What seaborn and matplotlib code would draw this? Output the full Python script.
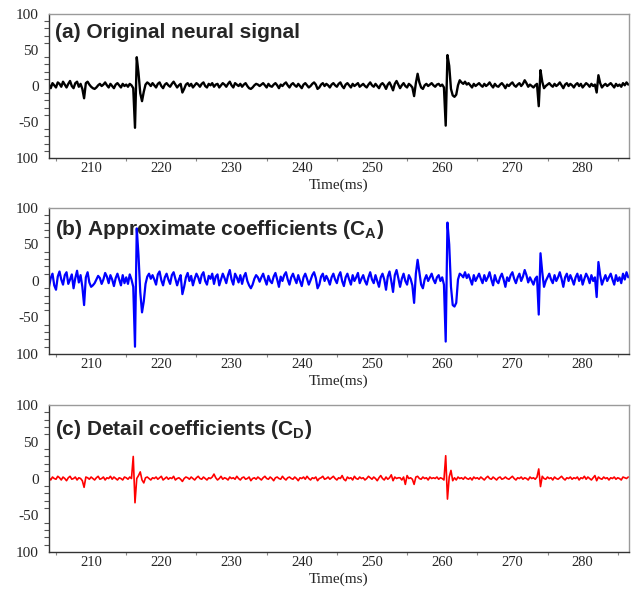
import numpy as np
import pandas as pd
import seaborn as sns
import matplotlib
matplotlib.use("Agg")
import matplotlib.pyplot as plt
from matplotlib.ticker import MultipleLocator

# sampling of the traces (ms)
t_start = 204.0
t_step = 0.25

# (a) original neural signal
orig = [2, -3, 4, 1, -2, 5, 3, -1, 6, 2, -2, 3, 7, 0, -3, 4, 6, -1, 3, -4,
        -17, 4, 6, 2, -1, -3, -4, -2, 1, 3, 0, 2, 5, 1, -2, 3, 0, -3, 2, 4,
        1, -2, 3, 0, 2, -1, 3, 1, -3, -58, 40, 18, -10, -21, -8, 2, 5, 3, 0, 4,
        1, -2, 3, 5, 0, -3, 2, 4, 1, -1, 3, 6, 2, -2, 1, 3, -9, -4, 2, 4,
        0, 3, -2, 1, 4, 2, -1, 3, 5, 0, -2, 3, 1, 4, -1, 2, 3, -2, 1, 4,
        2, -1, 3, 6, 1, -2, 4, 2, 0, 3, -1, 2, 4, 0, -3, -4, -2, 1, 3, 2,
        0, 2, 4, 1, -2, 3, 0, -1, 2, 4, 1, -3, 2, 0, 3, 5, 1, -2, 2, 4,
        1, -1, 3, 0, -3, 2, 4, 1, -2, 0, 3, 5, 2, -4, -2, 2, 4, 0, 3, 1,
        -2, 2, 4, 1, -1, 3, 5, 0, -3, 2, 4, 1, -2, 3, 0, 2, 4, -1, 1, 3,
        0, -2, 2, 5, 1, -1, 3, 0, -3, 2, 4, 1, -4, 2, 5, 0, -6, 3, 7, 2,
        -3, 1, 4, 0, -2, 3, 1, -2, -14, 4, 17, 5, -2, -4, 1, 3, 0, 2, 4, 1,
        -1, 2, 3, 0, 2, -2, -55, 43, 28, -4, -13, -15, -12, 1, 8, 5, 3, 6, 2, 4,
        1, -2, 3, 0, 2, 4, 1, -1, 3, 0, 2, 5, 1, -2, 3, 0, -1, 2, 4, 1,
        -3, 2, 0, 3, 5, 1, -1, 2, 4, 0, 3, 8, 4, -1, 2, 0, -2, 1, 3, -28,
        22, 6, -3, 0, 2, 4, 1, -1, 3, 0, 2, 5, 1, -3, 2, 4, 0, 3, 1, -2,
        2, 4, 0, 3, -2, 1, 4, 2, -1, 3, 0, 2, -9, 15, 4, -2, 1, 3, 0, 2,
        4, 1, -2, 3, 0, 2, -1, 4, 1, 5, 2]

# (b) approximate coefficients
approx = [-8, 4, 10, -6, -12, 6, 13, 2, -5, 8, 12, -4, 2, 9, -10, 4, 14, -2, 8, -8,
          -33, 5, 12, -2, -8, -6, -3, 2, 7, 4, -4, 2, 11, 6, -3, 8, 2, -7, 4, 10,
          2, -6, 8, -3, 5, -4, 9, 2, -8, -90, 72, 35, -15, -43, -28, -4, 6, 10, 3, 8,
          2, -5, 9, 13, 1, -6, 5, 10, 2, -4, 8, 12, 3, -6, 2, 8, -18, -8, 5, 11,
          0, 7, -6, 3, 10, 5, -3, 8, 12, 0, -5, 7, 3, 10, -4, 6, 9, -6, 2, 10,
          4, -3, 8, 15, 2, -5, 10, 5, -2, 8, -4, 6, 11, 0, -6, -10, -5, 3, 8, 5,
          -1, 5, 10, 2, -5, 7, 0, -3, 6, 11, 2, -8, 6, 0, 8, 12, 2, -5, 5, 10,
          3, -3, 8, 0, -7, 5, 10, 3, -5, 1, 8, 12, 4, -10, -5, 6, 10, 0, 7, 2,
          -5, 5, 10, 2, -3, 7, 12, 0, -7, 5, 10, 2, -5, 8, 0, 5, 11, -3, 3, 8,
          0, -5, 5, 12, 2, -3, 8, 0, -8, 5, 10, 2, -12, 6, 13, 0, -15, 8, 15, 4,
          -8, 3, 10, 0, -5, 8, 3, -6, -30, 10, 29, 12, -5, -10, 2, 8, 0, 5, 10, 2,
          -3, 5, 8, 0, 5, -5, -83, 80, 50, -8, -33, -35, -30, 2, 10, 8, 5, 12, 4, 9,
          2, -5, 8, 0, 5, 10, 3, -3, 8, 0, 5, 12, 2, -6, 8, 0, -3, 5, 10, 2,
          -8, 5, 0, 8, 12, 3, -3, 5, 10, 0, 6, 15, 8, -2, 5, 0, -5, 3, 6, -46,
          38, 12, -8, 0, 5, 10, 2, -3, 8, 0, 5, 12, 3, -8, 5, 10, 0, 8, 2, -5,
          5, 10, 0, 8, -5, 3, 10, 5, -3, 8, 0, 5, -22, 26, 8, -5, 2, 8, 0, 5,
          10, 2, -5, 8, 0, 5, -3, 10, 2, 12, 5]

# (c) detail coefficients
detail = [1, -2, 2, 0, -1, 3, 1, -2, 2, 0, -3, 1, 3, -1, 0, 2, -2, 1, 0, -3,
          -12, 2, 1, -1, 2, 0, -2, 1, 3, -1, 0, 2, -2, 1, 0, 3, -1, 2, 0, -2,
          1, 0, -2, 2, 1, -1, 2, 0, 30, -33, 0, 4, 9, -2, -6, 1, 2, 0, -2, 1,
          0, 2, -1, 1, 3, -2, 0, 2, -1, 1, 0, 3, -2, 0, 1, -1, -4, 0, 2, 1,
          -1, 2, 0, -2, 1, 3, 0, -1, 2, 0, -2, 1, 0, 2, 6, 1, -2, 0, 3, -1,
          1, 0, -2, 2, 0, 1, -1, 3, 0, -2, 1, 2, -1, 0, 2, -3, 0, 1, -1, 2,
          0, -2, 1, 3, 0, -1, 2, 0, -3, 1, 2, 0, -1, 3, 0, -2, 1, 2, 0, -1,
          2, 0, -3, 1, 0, 2, -1, 3, 0, -2, 1, 0, 2, -3, 0, 1, 3, -1, 0, 2,
          -1, 1, 3, 0, -2, 1, 0, 4, -1, -3, 2, 0, 1, -2, 3, 0, -1, 2, 0, 1,
          -2, 0, 3, 1, -1, 2, 0, -3, 1, 4, 0, -2, 2, -1, 1, 5, -3, 2, 0, 1,
          1, -2, 2, -8, 4, 0, 1, -1, -8, 2, 3, 0, -1, 2, 0, 1, -2, 2, 0, 1,
          0, 2, -1, 1, 0, -2, 31, -28, 2, 11, -3, 1, -2, 2, 0, 1, -1, 2, 0, -1,
          1, -2, 2, 0, 1, -1, 2, 0, -2, 1, 3, 0, -1, 2, 0, -2, 1, 2, -1, 0,
          2, 0, -1, 1, 3, 0, -2, 1, 0, 2, -1, 1, 0, -2, 2, 0, 1, -1, 2, 13,
          -11, 3, 0, -1, 2, 0, 1, -2, 2, 0, -1, 1, 3, 0, -2, 1, 0, 2, -1, 1,
          0, 2, -2, 1, 0, 3, -1, 2, 0, -2, 1, 4, -3, 2, 0, -1, 2, 0, 1, -2,
          1, 0, 2, -1, 1, 0, -2, 2, 1, 0, 2]

titles = ["(a) Original neural signal",
          r"(b) Approximate coefficients (C$_\mathbf{A}$)",
          r"(c) Detail coefficients (C$_\mathbf{D}$)"]
colors = ["black", "#0000ff", "#ff0000"]
widths = [1.7, 1.6, 1.2]
ytick_vals = [100, 50, 0, -50, -100]
ytick_labels = ["100", "50", "0", "-50", "100"]
xtick_vals = [210, 220, 230, 240, 250, 260, 270, 280]

sns.set_style("white")
plt.rcParams["mathtext.fontset"] = "custom"
plt.rcParams["mathtext.bf"] = "Liberation Sans:bold"
plt.rcParams["mathtext.rm"] = "Liberation Sans"

fig = plt.figure(figsize=(6.32, 5.89), dpi=100)
# axes boxes [left, bottom, width, height] in figure fraction
boxes = [[0.0775, 0.7317, 0.9177, 0.2445],
         [0.0775, 0.3990, 0.9177, 0.2479],
         [0.0775, 0.0628, 0.9177, 0.2496]]
title_y = [0.875, 0.85, 0.83]

for k, series in enumerate([orig, approx, detail]):
    ax = fig.add_axes(boxes[k])
    df = pd.DataFrame({"t": t_start + t_step * np.arange(len(series)), "v": series})
    sns.lineplot(data=df, x="t", y="v", ax=ax, color=colors[k],
                 linewidth=widths[k], estimator=None)
    ax.set_xlim(204.0, 286.6)
    ax.set_ylim(-100, 100)
    ax.set_yticks(ytick_vals)
    ax.set_yticklabels(ytick_labels, family="Liberation Serif", fontsize=11)
    ax.set_xticks(xtick_vals)
    ax.set_xticklabels([str(v) for v in xtick_vals], family="Liberation Serif", fontsize=10.5)
    ax.xaxis.set_minor_locator(MultipleLocator(5))
    ax.yaxis.set_minor_locator(MultipleLocator(10))
    ax.tick_params(axis="y", which="major", direction="out", length=6.5, width=0.8,
                   color="#555555", pad=1)
    ax.tick_params(axis="y", which="minor", direction="out", length=3.5, width=0.8,
                   color="#555555", left=True)
    ax.tick_params(axis="x", which="major", direction="out", length=0, pad=3)
    ax.tick_params(axis="x", which="minor", direction="out", length=2.5, width=0.8,
                   color="#888888", bottom=True)
    ax.set_xlabel("Time(ms)", family="Liberation Serif", fontsize=11, labelpad=2.5)
    ax.set_ylabel("")
    for side in ["top", "right"]:
        ax.spines[side].set_color("#9a9a9a")
        ax.spines[side].set_linewidth(1.0)
    for side in ["left", "bottom"]:
        ax.spines[side].set_color("#333333")
        ax.spines[side].set_linewidth(1.0)
    ax.text(0.011, title_y[k], titles[k], transform=ax.transAxes,
            family="Liberation Sans", fontweight="bold", fontsize=15,
            ha="left", va="center")

fig.savefig("out.png", dpi=100)
